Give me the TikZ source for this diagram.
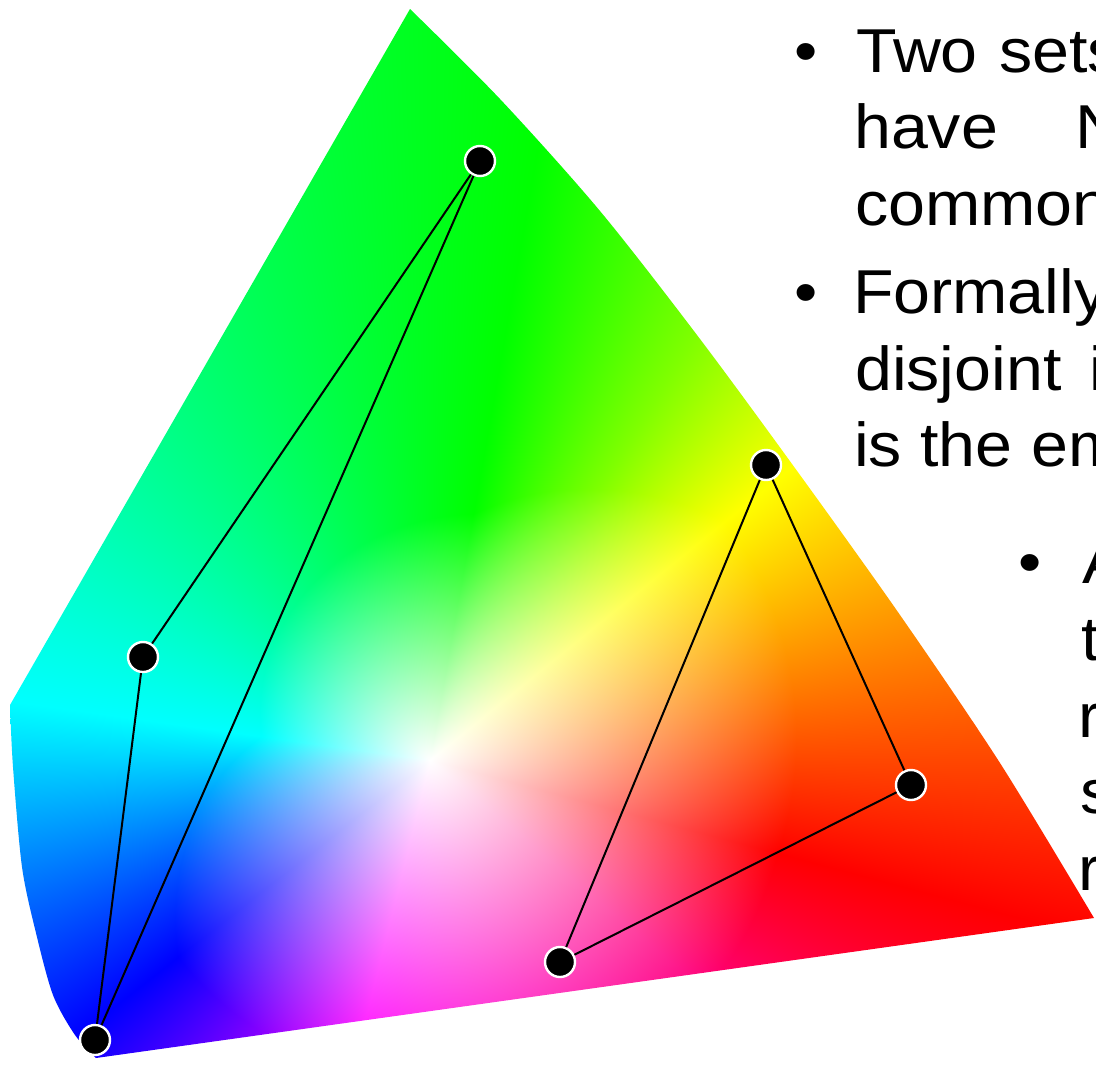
\documentclass[tikz,border=0pt]{standalone}
\usepackage{fontspec}
\setmainfont{Liberation Sans}[FakeStretch=1.07]
\pgfdeclarefunctionalshading{gamut}{\pgfpointorigin}{\pgfpoint{1096bp}{1065bp}}{}{
305 sub exch 430.003 sub
2 copy dup mul exch dup mul add sqrt
3 1 roll atan
345 sub dup 0 lt {360 add} if
dup
dup 54 lt {54 div} {
 dup 73 lt {54 sub 38 div 1 add} {
  dup 95 lt {73 sub 44 div 1.5 add} {
   dup 187 lt {95 sub 92 div 2 add} {
    dup 233 lt {187 sub 46 div 3 add} {
     dup 271 lt {233 sub 38 div 4 add} {
      dup 335 lt {271 sub 128 div 5 add} {335 sub 50 div 5.5 add} ifelse
     } ifelse
    } ifelse
   } ifelse
  } ifelse
 } ifelse
} ifelse
exch
dup 54 lt {20 mul 54 div 360 add} {
 dup 95 lt {54 sub -130 mul 41 div 380 add} {
  dup 187 lt {95 sub -80 mul 92 div 250 add} {
   dup 233 lt {187 sub 150 mul 46 div 170 add} {
    dup 277 lt {pop 320} {
     dup 342 lt {277 sub 40 mul 65 div 320 add} {pop 360} ifelse
    } ifelse
   } ifelse
  } ifelse
 } ifelse
} ifelse
3 -1 roll exch div dup 1 gt {pop 1} if
1 index 3 sub abs 1 sub dup 0 lt {pop 0} if dup 1 gt {pop 1} if 1 exch sub 1 index mul 1 exch sub
2 index 2 sub abs 2 exch sub dup 0 lt {pop 0} if dup 1 gt {pop 1} if 1 exch sub 2 index mul 1 exch sub
3 index 4 sub abs 2 exch sub dup 0 lt {pop 0} if dup 1 gt {pop 1} if 1 exch sub 3 index mul 1 exch sub
5 -2 roll pop pop
}
\tikzset{
  dot/.style={circle, fill=black, draw=white, line width=2.4bp, minimum size=30bp, inner sep=0pt},
  link/.style={black, line width=2bp},
  txt/.style={anchor=base west, inner sep=0pt, text=black, font=\fontsize{62bp}{76bp}\selectfont},
}
\begin{document}
\begin{tikzpicture}[x=1bp,y=-1bp]
\clip (0,0) rectangle (1096,1065);
\fill[white] (0,0) rectangle (1096,1065);
% gamut region
\begin{scope}
  \clip (410,9) -- (10,705)
    -- plot[smooth] coordinates {(10,705) (13,767) (22,867) (36,933) (53,995) (75,1035) (96,1058)}
    -- (1094,918)
    -- plot[smooth] coordinates {(1094,918) (1000,763) (900,615) (800,475) (700,339) (600,211) (500,99) (410,9)}
    -- cycle;
  \pgftransformshift{\pgfpoint{548bp}{-532.5bp}}
  \pgflowlevelsynccm
  \pgfuseshading{gamut}
\end{scope}
% points
\node[dot] (g1) at (480,161) {};
\node[dot] (l1) at (143,657) {};
\node[dot] (b1) at (95,1040) {};
\node[dot] (y2) at (766,465) {};
\node[dot] (r2) at (911,785) {};
\node[dot] (m2) at (560,962) {};
\draw[link] (g1) -- (l1);
\draw[link] (l1) -- (b1);
\draw[link] (b1) -- (g1);
\draw[link] (y2) -- (r2);
\draw[link] (r2) -- (m2);
\draw[link] (m2) -- (y2);
% text
\node[txt] (bu1) at (794,72) {•};
\node[txt] (w1) at (856,72) {Two};
\node[txt] (w2) at (999,72) {sets};
\node[txt] (w3) at (854,148) {have};
\node[txt] (w4) at (1075,148) {N};
\node[txt] (w5) at (855,225) {common};
\node[txt] (bu2) at (794,313) {•};
\node[txt] (w6) at (853,313) {Formally};
\node[txt] (w7) at (855,390) {disjoint};
\node[txt] (w8) at (1089,390) {i};
\node[txt] (w9) at (854,466) {is the em};
\node[txt] (bu3) at (1018,583) {•};
\node[txt] (s1) at (1082,583) {A};
\node[txt] (s2) at (1081,660) {t};
\node[txt] (s3) at (1078,737) {r};
\node[txt] (s4) at (1080,813) {s};
\node[txt] (s5) at (1078,890) {r};
\end{tikzpicture}
\end{document}
